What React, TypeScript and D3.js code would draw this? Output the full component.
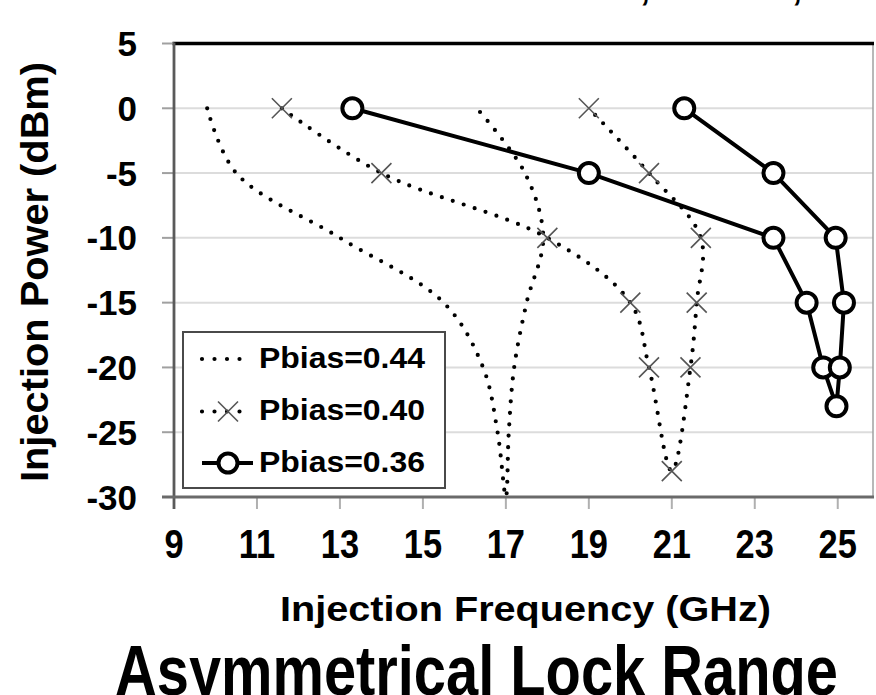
import React from "react";
import * as d3 from "d3";

// Pbias = 0.44 (dotted, smoothed, no markers)
const freq044 = [9.8, 10.5, 13.0, 15.5, 16.45, 16.8, 17.0, 17.07, 17.2, 17.5, 17.9, 17.46, 16.3];
const power044 = [0, -5, -10, -15, -20, -25, -30, -25, -20, -15, -10, -5, 0];

// Pbias = 0.40 (dotted with x markers)
const freq040 = [11.6, 14.0, 18.0, 20.0, 20.45, 21.0, 21.45, 21.6, 21.7, 20.45, 19.0];
const power040 = [0, -5, -10, -15, -20, -28, -20, -15, -10, -5, 0];

// Pbias = 0.36 (solid with open circles)
const freq036 = [13.3, 19.0, 23.45, 24.25, 24.65, 24.97, 25.05, 25.15, 24.95, 23.45, 21.3];
const power036 = [0, -5, -10, -15, -20, -23, -20, -15, -10, -5, 0];

const seriesNames = ["Pbias=0.44", "Pbias=0.40", "Pbias=0.36"];
const xTicks = [9, 11, 13, 15, 17, 19, 21, 23, 25];
const yTicks = [5, 0, -5, -10, -15, -20, -25, -30];
const gridLevels = [0, -5, -10, -15, -20, -25];

const W = 876;
const H = 695;
const left = 174;
const right = 873;
const top = 43.5;
const bottom = 497;
const font = "'Liberation Sans', Arial, sans-serif";

type Pt = [number, number];
const zip = (a: number[], b: number[]): Pt[] => a.map((v, i) => [v, b[i]]);

export default function App() {
  const x = d3.scaleLinear().domain([9, 25.85]).range([left, right]);
  const y = d3.scaleLinear().domain([-30, 5]).range([bottom, top]);

  const smooth = d3
    .line<Pt>()
    .x((d) => x(d[0]))
    .y((d) => y(d[1]))
    .curve(d3.curveCatmullRom.alpha(0.5));
  const straight = d3
    .line<Pt>()
    .x((d) => x(d[0]))
    .y((d) => y(d[1]));

  const s044 = zip(freq044, power044);
  const s040 = zip(freq040, power040);
  const s036 = zip(freq036, power036);

  const xMark = "M-10,-10L10,10M-10,10L10,-10";
  const dotted = { fill: "none", stroke: "#000", strokeWidth: 4.2, strokeLinecap: "round" as const, strokeDasharray: "0 11.5" };

  const legX = 183;
  const legY = 332;
  const rowY = [359, 411.5, 463];

  return (
    <svg
      width={W}
      height={H}
      viewBox={`0 0 ${W} ${H}`}
      style={{ position: "fixed", left: 0, top: 0, background: "#fff" }}
      fontFamily={font}
      fontWeight="bold"
    >
      <rect width={W} height={H} fill="#fff" />
      <defs>
        <clipPath id="plotClip">
          <rect x={left} y={top} width={right - left} height={bottom - top + 2} />
        </clipPath>
      </defs>

      {/* cut-off text at the very top */}
      <text x={640} y={0} fontSize={36}>,</text>
      <text x={792} y={0} fontSize={36}>,</text>

      {/* grid */}
      {gridLevels.map((v) => (
        <line key={v} x1={left} x2={right} y1={y(v)} y2={y(v)} stroke="#dcdcdc" strokeWidth={2} />
      ))}

      {/* frame */}
      <line x1={right} x2={right} y1={top} y2={bottom} stroke="#a0a0a0" strokeWidth={1.5} />
      <line x1={left - 1.5} x2={right + 1} y1={top} y2={top} stroke="#000" strokeWidth={3.5} />

      {/* y ticks */}
      {yTicks.map((v) => (
        <g key={v}>
          <line x1={left - 12} x2={left} y1={y(v)} y2={y(v)} stroke="#a0a0a0" strokeWidth={2} />
          <text x={137} y={y(v)} dy="0.36em" textAnchor="end" fontSize={35}>
            {v}
          </text>
        </g>
      ))}

      {/* x ticks */}
      {xTicks.map((v) => (
        <g key={v}>
          <line x1={x(v)} x2={x(v)} y1={bottom} y2={bottom + 12} stroke="#b0b0b0" strokeWidth={2} />
          <g transform={`translate(${x(v)},558) scale(0.84,1)`}>
            <text textAnchor="middle" fontSize={41}>
              {v}
            </text>
          </g>
        </g>
      ))}

      {/* axes */}
      <line x1={left} x2={left} y1={top - 1} y2={bottom + 12} stroke="#5a5a5a" strokeWidth={2.8} />
      <line x1={left - 12} x2={right + 1} y1={bottom} y2={bottom} stroke="#6a6a6a" strokeWidth={3} />

      <g clipPath="url(#plotClip)">
        {/* Pbias = 0.44 */}
        <path d={smooth(s044) || ""} {...dotted} />

        {/* Pbias = 0.40 */}
        <path d={smooth(s040) || ""} {...dotted} />
        {s040.map((d, i) => (
          <path key={i} d={xMark} transform={`translate(${x(d[0])},${y(d[1])})`} stroke="#555" strokeWidth={1.6} fill="none" />
        ))}

        {/* Pbias = 0.36 */}
        <path d={straight(s036) || ""} fill="none" stroke="#000" strokeWidth={4} strokeLinejoin="round" />
        {s036.map((d, i) => (
          <circle key={i} cx={x(d[0])} cy={y(d[1])} r={10} fill="#fff" stroke="#000" strokeWidth={4} />
        ))}
      </g>

      {/* legend */}
      <rect x={legX} y={legY} width={262} height={156} fill="#fff" stroke="#4a4a4a" strokeWidth={2} />
      <line x1={202} x2={252} y1={rowY[0]} y2={rowY[0]} {...dotted} strokeDasharray="0 12.5" />
      <line x1={202} x2={252} y1={rowY[1]} y2={rowY[1]} {...dotted} strokeDasharray="0 12.5" />
      <path d={xMark} transform={`translate(228,${rowY[1]})`} stroke="#555" strokeWidth={1.6} fill="none" />
      <line x1={202} x2={253} y1={rowY[2]} y2={rowY[2]} stroke="#000" strokeWidth={4} />
      <circle cx={228} cy={rowY[2]} r={9.5} fill="#fff" stroke="#000" strokeWidth={4} />
      {seriesNames.map((name, i) => (
        <text key={name} x={259} y={rowY[i] + 8.5} fontSize={29} textLength={166} lengthAdjust="spacingAndGlyphs">
          {name}
        </text>
      ))}

      {/* axis titles */}
      <text
        transform="translate(48,272) rotate(-90)"
        textAnchor="middle"
        fontSize={39}
        textLength={420}
        lengthAdjust="spacingAndGlyphs"
      >
        Injection Power (dBm)
      </text>
      <text x={280} y={621} fontSize={35} textLength={491} lengthAdjust="spacingAndGlyphs">
        Injection Frequency (GHz)
      </text>
      <text x={115} y={695} fontSize={71} textLength={723} lengthAdjust="spacingAndGlyphs">
        Asymmetrical Lock Range
      </text>
    </svg>
  );
}
